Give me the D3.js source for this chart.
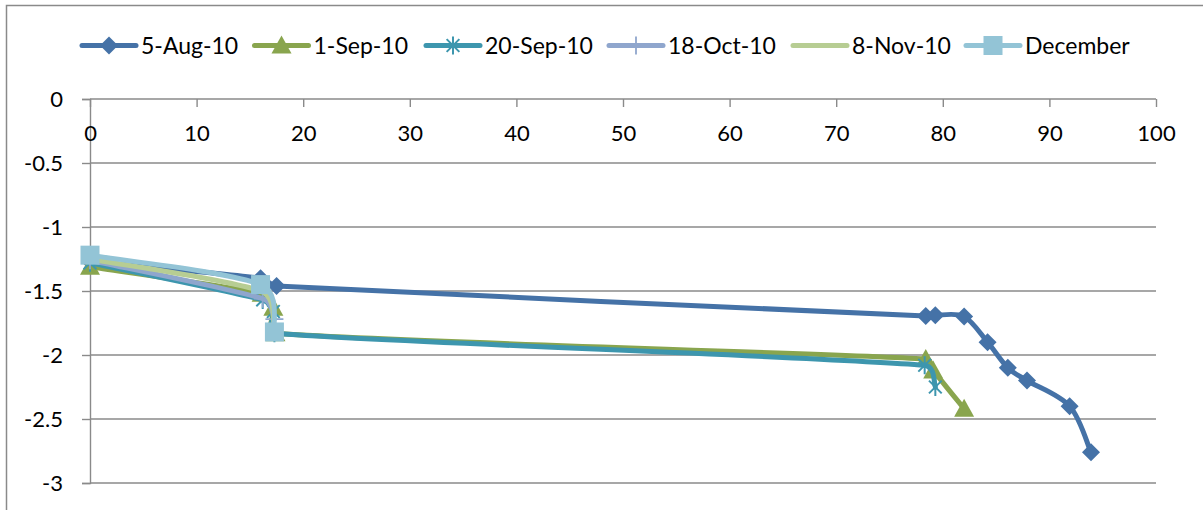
<!DOCTYPE html>
<html>
<head>
<meta charset="utf-8">
<script src="https://cdn.jsdelivr.net/npm/d3@7"></script>
<style>
  html, body { margin: 0; padding: 0; background: #fff; }
  svg { display: block; font-family: Lato, "Open Sans", sans-serif; }
</style>
</head>
<body>
<svg id="chart" width="1203" height="510"></svg>
<script>
// Series names and measurements (distance vs. level)
const seriesNames = ["5-Aug-10", "1-Sep-10", "20-Sep-10", "18-Oct-10", "8-Nov-10", "December"];

const xAug5  = [0, 16, 17.5, 78.4, 79.3, 82, 84.2, 86.1, 87.9, 91.9, 93.9];
const yAug5  = [-1.27, -1.40, -1.46, -1.695, -1.69, -1.70, -1.90, -2.10, -2.20, -2.40, -2.76];

const xSep1  = [0, 16.1, 17.2, 17.4, 78.4, 79.1, 82];
const ySep1  = [-1.31, -1.52, -1.63, -1.83, -2.03, -2.12, -2.42];

const xSep20 = [0, 16.2, 17.2, 17.3, 78.3, 79.3];
const ySep20 = [-1.28, -1.57, -1.66, -1.83, -2.08, -2.25];

const xOct18 = [0, 16.2, 17.3];
const yOct18 = [-1.26, -1.56, -1.72];

const xNov8  = [0, 16, 17.3];
const yNov8  = [-1.25, -1.50, -1.78];

const xDec   = [0, 16, 17.3];
const yDec   = [-1.22, -1.45, -1.82];

const xTickValues = [0, 10, 20, 30, 40, 50, 60, 70, 80, 90, 100];
const xTickLabels = ["0", "10", "20", "30", "40", "50", "60", "70", "80", "90", "100"];
const yTickValues = [0, -0.5, -1, -1.5, -2, -2.5, -3];
const yTickLabels = ["0", "-0.5", "-1", "-1.5", "-2", "-2.5", "-3"];

const seriesX = [xAug5, xSep1, xSep20, xOct18, xNov8, xDec];
const seriesY = [yAug5, ySep1, ySep20, yOct18, yNov8, yDec];

const colors  = ["#4572A7", "#89A54E", "#3D96AE", "#8FA6CD", "#B7CD93", "#93C4D6"];
const markers = ["diamond", "triangle", "asterisk", "plus", "none", "square"];

const svg = d3.select("#chart");
const gridColor = "#8a8a8a";
const axisFont = 22;
const legendFont = 23;
// left edge of each legend entry (line sample start)
const legendStarts = [82, 254.5, 426, 609, 793, 966];

// outer chart frame
svg.append("rect")
  .attr("x", 6.5).attr("y", 5.5)
  .attr("width", 1210).attr("height", 520)
  .attr("fill", "#fff")
  .attr("stroke", gridColor).attr("stroke-width", 1.5);

const x = d3.scaleLinear().domain([0, 100]).range([90, 1156]);
const y = d3.scaleLinear().domain([0, -3]).range([99, 483]);

// horizontal gridlines
svg.append("g").selectAll("line")
  .data(yTickValues)
  .join("line")
  .attr("x1", x(0)).attr("x2", x(100))
  .attr("y1", d => y(d)).attr("y2", d => y(d))
  .attr("stroke", gridColor).attr("stroke-width", 1.4);

// y axis (left), ticks pointing outward
const yAxis = svg.append("g")
  .attr("transform", `translate(${x(0)},0)`)
  .call(d3.axisLeft(y).tickValues(yTickValues).tickSize(8)
        .tickFormat((d, i) => yTickLabels[i]));
yAxis.select(".domain").attr("stroke", gridColor).attr("stroke-width", 1.4);
yAxis.selectAll(".tick line").attr("stroke", gridColor).attr("stroke-width", 1.4);
yAxis.selectAll(".tick text")
  .attr("x", -27).attr("dy", "0.35em")
  .attr("font-size", axisFont).attr("font-family", "Lato").attr("fill", "#000");

// x axis along y = 0, ticks pointing down into the plot
const xAxis = svg.append("g")
  .attr("transform", `translate(0,${y(0)})`)
  .call(d3.axisBottom(x).tickValues(xTickValues).tickSize(8)
        .tickFormat((d, i) => xTickLabels[i]));
xAxis.select(".domain").remove();
xAxis.selectAll(".tick line").attr("stroke", gridColor).attr("stroke-width", 1.4);
xAxis.selectAll(".tick text")
  .attr("y", 34).attr("dy", "0.35em")
  .attr("font-size", axisFont).attr("font-family", "Lato").attr("fill", "#000");

// Smoothed line: cubic Bezier per segment, tangents from neighbouring points
// (1/6 of the chord), limited relative to the segment length so that short
// segments next to long ones bend into rounded corners instead of looping.
function smoothPath(pts) {
  const p = d3.path();
  const n = pts.length;
  if (!n) return "";
  p.moveTo(pts[0][0], pts[0][1]);
  const limit = (t, len) => {
    const l = Math.hypot(t[0], t[1]);
    const m = 0.45 * len;
    return l > m && l > 0 ? [t[0] * m / l, t[1] * m / l] : t;
  };
  for (let i = 0; i < n - 1; i++) {
    const p0 = pts[i - 1] || pts[i];
    const p1 = pts[i];
    const p2 = pts[i + 1];
    const p3 = pts[i + 2] || pts[i + 1];
    const len = Math.hypot(p2[0] - p1[0], p2[1] - p1[1]);
    const t1 = limit([(p2[0] - p0[0]) / 6, (p2[1] - p0[1]) / 6], len);
    const t2 = limit([(p3[0] - p1[0]) / 6, (p3[1] - p1[1]) / 6], len);
    p.bezierCurveTo(p1[0] + t1[0], p1[1] + t1[1], p2[0] - t2[0], p2[1] - t2[1], p2[0], p2[1]);
  }
  return p.toString();
}

function drawMarker(g, type, color, cx, cy) {
  if (type === "diamond") {
    const r = 9;
    g.append("path")
      .attr("d", `M${cx},${cy - r}L${cx + r},${cy}L${cx},${cy + r}L${cx - r},${cy}Z`)
      .attr("fill", color);
  } else if (type === "triangle") {
    const w = 10, h = 18;
    g.append("path")
      .attr("d", `M${cx},${cy - h * 0.55}L${cx + w},${cy + h * 0.45}L${cx - w},${cy + h * 0.45}Z`)
      .attr("fill", color);
  } else if (type === "square") {
    const r = 9.5;
    g.append("rect")
      .attr("x", cx - r).attr("y", cy - r)
      .attr("width", 2 * r).attr("height", 2 * r)
      .attr("fill", color);
  } else if (type === "asterisk") {
    const r = 9;
    const d = r * Math.SQRT1_2;
    g.append("path")
      .attr("d", `M${cx},${cy - r}V${cy + r}M${cx - d},${cy - d}L${cx + d},${cy + d}M${cx + d},${cy - d}L${cx - d},${cy + d}`)
      .attr("stroke", color).attr("stroke-width", 2).attr("fill", "none");
  } else if (type === "plus") {
    const r = 9;
    g.append("path")
      .attr("d", `M${cx},${cy - r}V${cy + r}M${cx - r},${cy}H${cx + r}`)
      .attr("stroke", color).attr("stroke-width", 1.8).attr("fill", "none");
  }
}

// series: line followed by its markers, in legend order
seriesNames.forEach((name, i) => {
  const pts = seriesX[i].map((v, j) => [x(v), y(seriesY[i][j])]);
  const g = svg.append("g").attr("class", "series");
  g.append("path")
    .attr("d", smoothPath(pts))
    .attr("fill", "none")
    .attr("stroke", colors[i])
    .attr("stroke-width", 5)
    .attr("stroke-linejoin", "round")
    .attr("stroke-linecap", "round");
  pts.forEach(p => drawMarker(g, markers[i], colors[i], p[0], p[1]));
});

// legend across the top
const legend = svg.append("g").attr("class", "legend");
const legendY = 45.5;
seriesNames.forEach((name, i) => {
  const lx = legendStarts[i];
  const item = legend.append("g");
  item.append("line")
    .attr("x1", lx).attr("x2", lx + 54)
    .attr("y1", legendY).attr("y2", legendY)
    .attr("stroke", colors[i]).attr("stroke-width", 5)
    .attr("stroke-linecap", "round");
  drawMarker(item, markers[i], colors[i], lx + 27, legendY);
  item.append("text")
    .attr("x", lx + 59).attr("y", legendY).attr("dy", "0.35em")
    .attr("font-size", legendFont).attr("font-family", "Lato").attr("fill", "#000")
    .text(name);
});
</script>
</body>
</html>
